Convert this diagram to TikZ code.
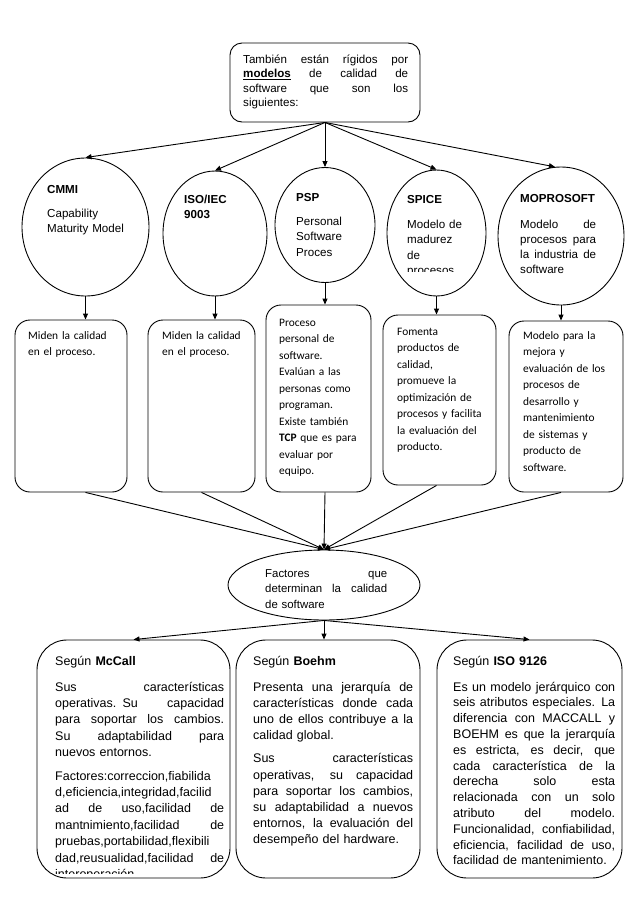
\documentclass[tikz,border=0pt]{standalone}
\usepackage{fontspec}
\setmainfont{Liberation Sans}
\newfontfamily\calfont{Carlito}
\usetikzlibrary{shapes.geometric,arrows.meta}
\newcommand{\jl}[1]{\leavevmode\hbox to \hsize{\spaceskip=0.278em plus 1fil\relax #1}}
\begin{document}
\begin{tikzpicture}[x=1pt,y=-1pt,
  arr/.style={line width=0.9pt,-{Triangle[length=6pt,width=5pt]}},
  oval/.style={draw,line width=0.9pt,ellipse,inner sep=0pt},
  rbox/.style={draw,line width=0.9pt,rectangle,inner sep=0pt},
  txt/.style={anchor=base west,inner sep=0pt,align=left},
  ov/.style={font=\fontsize{11.6}{15.2}\selectfont},
  cal/.style={font=\calfont\fontsize{11.4}{16.5}\selectfont}
]
\useasboundingbox (0,0) rectangle (638,903);
\fill[white] (0,0) rectangle (638,903);

% shapes
\node[rbox,rounded corners=12pt,minimum width=190pt,minimum height=79pt] (top) at (325,82.5) {};
\node[oval,minimum width=127pt,minimum height=138pt] (cmmi) at (85.5,227) {};
\node[oval,minimum width=104pt,minimum height=125pt] (iso) at (215,233.5) {};
\node[oval,minimum width=100pt,minimum height=115pt] (psp) at (325,225) {};
\node[oval,minimum width=99pt,minimum height=126pt] (spice) at (436.5,233) {};
\node[oval,minimum width=126pt,minimum height=138pt] (mopro) at (561,236) {};

\node[rbox,rounded corners=15pt,minimum width=112pt,minimum height=172pt] (b1) at (71,406) {};
\node[rbox,rounded corners=15pt,minimum width=107pt,minimum height=172pt] (b2) at (201.5,406) {};
\node[rbox,rounded corners=15pt,minimum width=105pt,minimum height=187pt] (b3) at (318.5,398.5) {};
\node[rbox,rounded corners=15pt,minimum width=113pt,minimum height=170pt] (b4) at (439.5,400) {};
\node[rbox,rounded corners=15pt,minimum width=114pt,minimum height=171pt] (b5) at (566,406.5) {};

\node[oval,minimum width=192pt,minimum height=70pt] (fac) at (324,585) {};

\node[rbox,rounded corners=30pt,minimum width=193pt,minimum height=238pt] (L) at (133.5,759) {};
\node[rbox,rounded corners=30pt,minimum width=184pt,minimum height=238pt] (M) at (328,759) {};
\node[rbox,rounded corners=30pt,minimum width=185pt,minimum height=238pt] (R) at (529.5,759) {};

% connectors
\draw[arr] (top.south) -- (cmmi.north);
\draw[arr] (top.south) -- (iso.north);
\draw[arr] (top.south) -- (top.south |- psp.north);
\draw[arr] (top.south) -- (spice.north);
\draw[arr] (top.south) -- (mopro.95);

\draw[arr] (cmmi.south) -- (cmmi.south |- b1.north);
\draw[arr] (iso.south) -- (iso.south |- b2.north);
\draw[arr] (psp.south) -- (psp.south |- b3.north);
\draw[arr] (spice.south) -- (spice.south |- b4.north);
\draw[arr] (mopro.south) -- (mopro.south |- b5.north);

\draw[arr] (b1.south -| cmmi.south) -- (fac.north);
\draw[arr] (b2.south) -- (fac.north);
\draw[arr] (b3.south -| psp.south) -- (fac.north);
\draw[arr] (b4.south -| spice.south) -- (fac.north);
\draw[arr] (b5.south -| mopro.south) -- (fac.north);

\draw[arr] (fac.south) -- (L.north);
\draw[arr] (fac.south) -- (fac.south |- M.north);
\draw[arr] (fac.south) -- (R.north);

% texts
\node[txt,text width=165pt,font=\fontsize{11.6}{14.6}\selectfont] (ttop) at (243,63)
 {\jl{También están rígidos por}\\
  \jl{\underline{\textbf{modelos}} de calidad de}\\
  \jl{software que son los}\\
  siguientes:};

\node[txt,ov,text width=100pt] (tcmmi) at (47,193)
 {\textbf{CMMI}\\[9.5pt] Capability\\ Maturity Model};
\node[txt,ov,text width=70pt] (tiso) at (184,203)
 {\textbf{ISO/IEC}\\ \textbf{9003}};
\node[txt,ov,text width=70pt] (tpsp) at (296,201)
 {\textbf{PSP}\\[9.5pt] Personal\\ Software\\ Proces};
\begin{scope}
\clip (385,180) rectangle (490,271);
\node[txt,ov,text width=75pt] (tspice) at (407,203)
 {\textbf{SPICE}\\[10.5pt] Modelo de\\ madurez\\ de\\ procesos};
\end{scope}
\node[txt,ov,text width=76pt] (tmopro) at (520,202)
 {\textbf{MOPROSOFT}\\[10.8pt] \jl{Modelo de}\\ \jl{procesos para}\\ \jl{la industria de}\\ software};

\node[txt,cal,text width=95pt] (tb1) at (28,339) {Miden la calidad\\ en el proceso.};
\node[txt,cal,text width=90pt] (tb2) at (162,339) {Miden la calidad\\ en el proceso.};
\node[txt,cal,text width=90pt] (tb3) at (279,326)
 {Proceso\\ personal de\\ software.\\ Evalúan a las\\ personas como\\ programan.\\ Existe también\\ \textbf{TCP} que es para\\ evaluar por\\ equipo.};
\node[txt,cal,text width=98pt] (tb4) at (397,335)
 {Fomenta\\ productos de\\ calidad,\\ promueve la\\ optimización de\\ procesos y facilita\\ la evaluación del\\ producto.};
\node[txt,cal,text width=98pt] (tb5) at (523,339)
 {Modelo para la\\ mejora y\\ evaluación de los\\ procesos de\\ desarrollo y\\ mantenimiento\\ de sistemas y\\ producto de\\ software.};

\node[txt,text width=122pt,font=\fontsize{11.4}{15.5}\selectfont] (tfac) at (265,577)
 {\jl{Factores que}\\ \jl{determinan la calidad}\\ de software};

\begin{scope}
\clip (40,645) rectangle (228,873);
\node[txt,text width=169pt,font=\fontsize{12.5}{16.4}\selectfont] (tL) at (55,665)
 {Según \textbf{McCall}\\[9.6pt]
  \jl{Sus características}\\
  \jl{operativas. Su capacidad}\\
  \jl{para soportar los cambios.}\\
  \jl{Su adaptabilidad para}\\
  nuevos entornos.\\[7pt]
  Factores:correccion,fiabilida\\
  d,eficiencia,integridad,facilid\\
  \jl{ad de uso,facilidad de}\\
  \jl{mantnimiento,facilidad de}\\
  pruebas,portabilidad,flexibili\\
  \jl{dad,reusualidad,facilidad de}\\
  interoperación};
\end{scope}

\node[txt,text width=160pt,font=\fontsize{12.5}{16.2}\selectfont] (tM) at (253,665)
 {Según \textbf{Boehm}\\[9.8pt]
  \jl{Presenta una jerarquía de}\\
  \jl{características donde cada}\\
  \jl{uno de ellos contribuye a la}\\
  calidad global.\\[7pt]
  \jl{Sus características}\\
  \jl{operativas, su capacidad}\\
  \jl{para soportar los cambios,}\\
  \jl{su adaptabilidad a nuevos}\\
  \jl{entornos, la evaluación del}\\
  desempeño del hardware.};

\node[txt,text width=162pt,font=\fontsize{12.5}{15.8}\selectfont] (tR) at (453,665)
 {Según \textbf{ISO 9126}\\[10.2pt]
  \jl{Es un modelo jerárquico con}\\
  \jl{seis atributos especiales. La}\\
  \jl{diferencia con MACCALL y}\\
  \jl{BOEHM es que la jerarquía}\\
  \jl{es estricta, es decir, que}\\
  \jl{cada característica de la}\\
  \jl{derecha solo esta}\\
  \jl{relacionada con un solo}\\
  \jl{atributo del modelo.}\\
  \jl{Funcionalidad, confiabilidad,}\\
  \jl{eficiencia, facilidad de uso,}\\
  facilidad de mantenimiento.};
\end{tikzpicture}
\end{document}
